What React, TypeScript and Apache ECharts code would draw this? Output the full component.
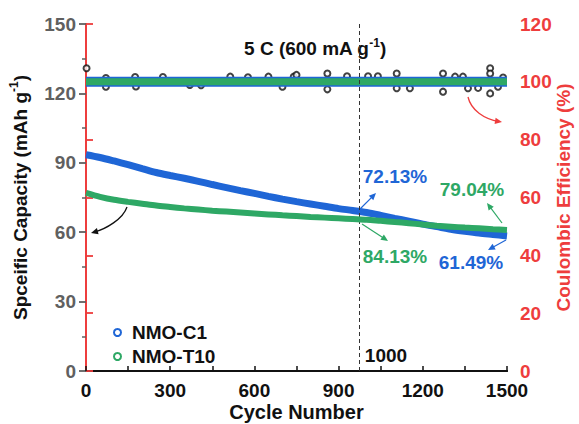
import React, { useEffect, useRef } from 'react';
import * as echarts from 'echarts';

const BLUE = '#1f66d6';
const GREEN = '#2ea865';
const RED = '#ee3d3d';
const GRAY = '#606060';
const FONT = '"Liberation Sans", Arial, sans-serif';

const cycles = [0, 50, 100, 150, 200, 250, 300, 350, 400, 450, 500, 550, 600, 650, 700, 750,
  800, 850, 900, 950, 1000, 1050, 1100, 1150, 1200, 1250, 1300, 1350, 1400, 1450, 1500];
const capC1 = [93.5, 92.3, 90.8, 89.2, 87.5, 85.8, 84.5, 83.3, 82.0, 80.6, 79.3, 78.0, 76.8, 75.5, 74.3, 73.2,
  72.2, 71.2, 70.2, 69.4, 68.5, 67.3, 66.0, 64.8, 63.5, 62.4, 61.3, 60.4, 59.6, 59.0, 58.4];
const capT10 = [77.0, 75.3, 74.0, 73.1, 72.3, 71.5, 70.9, 70.3, 69.8, 69.3, 68.9, 68.5, 68.1, 67.7, 67.3, 67.0,
  66.6, 66.3, 66.0, 65.7, 65.4, 64.9, 64.4, 63.9, 63.3, 62.8, 62.4, 62.0, 61.7, 61.3, 61.0];

const ceCycles = [0, 100, 200, 300, 400, 500, 600, 700, 800, 900, 1000, 1100, 1200, 1300, 1400, 1500];
const ceC1 = [100, 100, 100, 100, 100, 100, 100, 100, 100, 100, 100, 100, 100, 100, 100, 100];
const ceT10 = [100, 100, 100, 100, 100, 100, 100, 100, 100, 100, 100, 100, 100, 100, 100, 100];

const ceBlackCycles = [2, 71, 71, 175, 178, 274, 370, 410, 514, 577, 650, 700, 740, 750, 860, 860, 930, 1005,
  1040, 1107, 1107, 1154, 1272, 1272, 1315, 1343, 1361, 1397, 1440, 1440, 1440, 1468, 1486];
const ceBlack = [104.7, 101.3, 98.3, 101.7, 98.4, 101.7, 98.9, 98.8, 101.8, 101.6, 101.8, 98.3, 101.8, 102.4,
  102.9, 97.4, 101.9, 101.9, 101.9, 102.9, 97.8, 97.8, 102.9, 96.6, 101.8, 101.8, 97.8, 97.9, 104.7, 102.9,
  96.0, 98.3, 101.5];

const markCycle = 973;

function head(x2: number, y2: number, ang: number, color: string) {
  const L = 7, W = 3.2;
  const bx = x2 - L * Math.cos(ang), by = y2 - L * Math.sin(ang);
  const px = -Math.sin(ang) * W, py = Math.cos(ang) * W;
  return {
    type: 'polygon', silent: true,
    shape: { points: [[x2, y2], [bx + px, by + py], [bx - px, by - py]] },
    style: { fill: color },
  };
}
function straightArrow(x1: number, y1: number, x2: number, y2: number, color: string) {
  const ang = Math.atan2(y2 - y1, x2 - x1);
  return [
    { type: 'line', silent: true, shape: { x1, y1, x2: x2 - 4 * Math.cos(ang), y2: y2 - 4 * Math.sin(ang) }, style: { stroke: color, lineWidth: 1.2 } },
    head(x2, y2, ang, color),
  ];
}
function curvedArrow(x1: number, y1: number, c1x: number, c1y: number, c2x: number, c2y: number, x2: number, y2: number, color: string) {
  const ang = Math.atan2(y2 - c2y, x2 - c2x);
  return [
    { type: 'bezierCurve', silent: true, shape: { x1, y1, cpx1: c1x, cpy1: c1y, cpx2: c2x, cpy2: c2y, x2: x2 - 3 * Math.cos(ang), y2: y2 - 3 * Math.sin(ang) }, style: { stroke: color, lineWidth: 1.3, fill: 'none' } },
    head(x2, y2, ang, color),
  ];
}
function label(text: string, x: number, y: number, color: string) {
  return {
    type: 'text', silent: true, x, y,
    style: { text, fill: color, font: `bold 19px ${FONT}`, align: 'center', verticalAlign: 'middle' },
  };
}

export default function App() {
  const ref = useRef<HTMLDivElement>(null);
  useEffect(() => {
    if (!ref.current) return;
    const chart = echarts.init(ref.current, null, { renderer: 'svg' });
    const pairs = (xs: number[], ys: number[]) => xs.map((x, i) => [x, ys[i]]);
    const plain = (v: number) => String(v);
    chart.setOption({
      animation: false,
      backgroundColor: '#fff',
      grid: { left: 86, right: 72, top: 24, bottom: 53, outerBoundsMode: 'none', containLabel: false },
      legend: {
        orient: 'vertical', left: 108, top: 318, itemGap: 5, itemWidth: 7, itemHeight: 7,
        textStyle: { fontFamily: FONT, fontWeight: 'bold', fontSize: 19, color: '#111', padding: [0, 0, 0, 6] },
        data: [
          { name: 'NMO-C1', icon: 'emptyCircle', itemStyle: { color: BLUE } },
          { name: 'NMO-T10', icon: 'emptyCircle', itemStyle: { color: GREEN } },
        ],
      },
      xAxis: [
        {
          type: 'value', min: 0, max: 1500, interval: 300, position: 'bottom',
          name: 'Cycle Number', nameLocation: 'middle', nameGap: 31, nameMoveOverlap: false,
          nameTextStyle: { fontFamily: FONT, fontWeight: 'bold', fontSize: 20, color: '#111' },
          axisLine: { show: true, lineStyle: { color: '#111', width: 2.2 } },
          axisTick: { show: true, inside: true, length: 5, lineStyle: { color: '#111', width: 1.5 } },
          minorTick: { show: true, splitNumber: 2, length: 5, lineStyle: { color: '#111', width: 1.5 } },
          axisLabel: { fontFamily: FONT, fontWeight: 'bold', fontSize: 19, color: '#111', margin: 10, formatter: plain },
          splitLine: { show: false },
        },
        {
          type: 'value', min: 0, max: 1500, position: 'top',
          axisLine: { show: true, lineStyle: { color: '#111', width: 2.2 } },
          axisTick: { show: false }, axisLabel: { show: false }, splitLine: { show: false },
        },
      ],
      yAxis: [
        {
          type: 'value', min: 0, max: 150, interval: 30, position: 'left',
          name: '{a|Spceific Capacity (mAh g}{s|-1}{a|)}', nameLocation: 'middle', nameGap: 54, nameMoveOverlap: false,
          nameTextStyle: {
            rich: {
              a: { fontFamily: FONT, fontWeight: 'bold', fontSize: 19, color: '#111', lineHeight: 24 },
              s: { fontFamily: FONT, fontWeight: 'bold', fontSize: 12, color: '#111', lineHeight: 24, verticalAlign: 'top' },
            },
          },
          axisLine: { show: true, lineStyle: { color: GRAY, width: 2 } },
          axisTick: { show: true, length: 7, lineStyle: { color: GRAY, width: 1.8 } },
          minorTick: { show: true, splitNumber: 2, length: 4, lineStyle: { color: GRAY, width: 1.5 } },
          axisLabel: { fontFamily: FONT, fontWeight: 'bold', fontSize: 19, color: GRAY, margin: 10, formatter: plain },
          splitLine: { show: false },
        },
        {
          type: 'value', min: 0, max: 120, interval: 20, position: 'right',
          name: 'Coulombic Efficiency (%)', nameLocation: 'middle', nameGap: 47, nameRotate: 90, nameMoveOverlap: false,
          nameTextStyle: { fontFamily: FONT, fontWeight: 'bold', fontSize: 19, color: RED },
          axisLine: { show: true, lineStyle: { color: RED, width: 2 } },
          axisTick: { show: true, length: 7, lineStyle: { color: RED, width: 1.8 } },
          axisLabel: { fontFamily: FONT, fontWeight: 'bold', fontSize: 19, color: RED, margin: 13, formatter: plain },
          splitLine: { show: false },
        },
      ],
      series: [
        {
          name: 'CE', type: 'scatter', yAxisIndex: 1, symbol: 'emptyCircle', symbolSize: 6,
          itemStyle: { color: '#111', borderColor: '#111', borderWidth: 1.3 },
          data: pairs(ceBlackCycles, ceBlack), z: 1,
        },
        {
          name: 'NMO-C1 CE', type: 'line', yAxisIndex: 1, showSymbol: false, symbol: 'none',
          lineStyle: { color: BLUE, width: 10 }, data: pairs(ceCycles, ceC1), z: 2,
        },
        {
          name: 'NMO-T10 CE', type: 'line', yAxisIndex: 1, showSymbol: false, symbol: 'none',
          lineStyle: { color: GREEN, width: 7 }, data: pairs(ceCycles, ceT10), z: 3,
        },
        {
          name: 'NMO-C1', type: 'line', yAxisIndex: 0, showSymbol: false, symbol: 'emptyCircle', smooth: 0.3,
          color: BLUE, lineStyle: { color: BLUE, width: 7 }, data: pairs(cycles, capC1), z: 4,
        },
        {
          name: 'NMO-T10', type: 'line', yAxisIndex: 0, showSymbol: false, symbol: 'emptyCircle', smooth: 0.3,
          color: GREEN, lineStyle: { color: GREEN, width: 6 }, data: pairs(cycles, capT10), z: 5,
          markLine: {
            silent: true, symbol: 'none', label: { show: false },
            lineStyle: { color: '#333', type: [4, 3], width: 1 },
            data: [{ xAxis: markCycle }],
          },
        },
      ],
      graphic: [
        {
          type: 'text', silent: true, x: 315, y: 48,
          style: {
            text: '{a|5 C (600 mA g}{s|-1}{a|)}', align: 'center', verticalAlign: 'middle',
            rich: {
              a: { font: `bold 19px ${FONT}`, fill: '#111', lineHeight: 22 },
              s: { font: `bold 12px ${FONT}`, fill: '#111', lineHeight: 22, verticalAlign: 'top' },
            },
          },
        },
        label('72.13%', 395, 176, BLUE),
        label('79.04%', 472, 189, GREEN),
        label('84.13%', 395, 256, GREEN),
        label('61.49%', 471, 262, BLUE),
        label('1000', 386, 355, '#111'),
        ...straightArrow(360, 209, 376, 193, BLUE),
        ...straightArrow(362, 224, 388, 241, GREEN),
        ...straightArrow(502, 223, 487, 203, GREEN),
        ...straightArrow(506, 240, 488, 250, BLUE),
        ...curvedArrow(127, 207, 123, 219, 106, 229, 91, 233, '#111'),
        ...curvedArrow(468, 97, 471, 110, 484, 119, 502, 122, RED),
      ],
    });
    return () => chart.dispose();
  }, []);
  return <div ref={ref} style={{ position: 'fixed', left: 0, top: 0, width: 579, height: 424 }} />;
}
